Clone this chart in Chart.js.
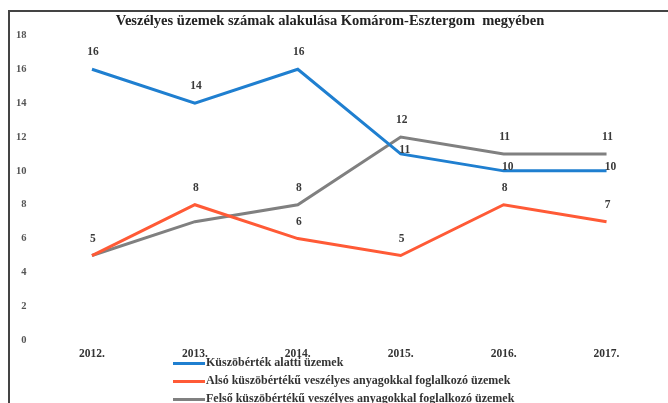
<!DOCTYPE html>
<html>
<head>
<meta charset="utf-8">
<script src="https://cdn.jsdelivr.net/npm/chart.js@4/dist/chart.umd.min.js"></script>
<style>
  html, body { margin: 0; padding: 0; background: #fff; }
  #wrap { position: relative; width: 668px; height: 403px; overflow: hidden; }
  #frame { position: absolute; left: 8px; top: 10px; right: -4px; bottom: -4px;
           border-left: 2px solid #444; border-top: 2px solid #444; }
  canvas { position: absolute; left: 0; top: 0; }
  #legend { position: absolute; left: 173px; top: 353px; font: bold 12px "Liberation Serif", serif; color: #333; }
  #legend div { height: 18px; line-height: 18px; white-space: nowrap; }
  #legend span.mk { display: inline-block; width: 32px; height: 3px; vertical-align: middle; margin-right: 1px; }
</style>
</head>
<body>
<div id="wrap">
  <div id="frame"></div>
  <canvas id="c" width="668" height="403"></canvas>
  <div id="legend"></div>
</div>
<script>
const years = ["2012.", "2013.", "2014.", "2015.", "2016.", "2017."];
const belowThreshold = [16, 14, 16, 11, 10, 10];
const lowerTier = [5, 8, 6, 5, 8, 7];
const upperTier = [5, 7, 8, 12, 11, 11];
const seriesNames = [
    "Küszöbérték alatti üzemek",
    "Alsó küszöbértékű veszélyes anyagokkal foglalkozó üzemek",
    "Felső küszöbértékű veszélyes anyagokkal foglalkozó üzemek"
];
const yTicks = [0, 2, 4, 6, 8, 10, 12, 14, 16, 18];

const serif = '"Liberation Serif", "Times New Roman", serif';

// value labels over the points
const pointLabels = {
    id: 'pointLabels',
    afterDatasetsDraw(chart) {
        const ctx = chart.ctx;
        ctx.save();
        ctx.font = 'bold 11.5px ' + serif;
        ctx.fillStyle = '#3a3a3a';
        ctx.textAlign = 'center';
        ctx.textBaseline = 'middle';
        chart.data.datasets.forEach((ds, i) => {
            const meta = chart.getDatasetMeta(i);
            meta.data.forEach((pt, j) => {
                if (ds.skipLabel && ds.skipLabel.includes(j)) return;
                const near = ds.nearLabel && ds.nearLabel.includes(j);
                const dy = near ? 4 : 17;
                const dx = near ? 4 : 1;
                ctx.fillText(ds.data[j], pt.x + dx, pt.y - dy);
            });
        });
        ctx.restore();
    }
};

const chart = new Chart(document.getElementById('c'), {
    type: 'line',
    data: {
        labels: years,
        datasets: [
            {
                label: seriesNames[0],
                data: belowThreshold,
                borderColor: '#1f7fd0',
                borderWidth: 3,
                pointRadius: 0,
                tension: 0,
                nearLabel: [3, 4, 5]
            },
            {
                label: seriesNames[1],
                data: lowerTier,
                borderColor: '#ff5a36',
                borderWidth: 3,
                pointRadius: 0,
                tension: 0
            },
            {
                label: seriesNames[2],
                data: upperTier,
                borderColor: '#808080',
                borderWidth: 3,
                pointRadius: 0,
                tension: 0,
                skipLabel: [0, 1]
            }
        ]
    },
    options: {
        responsive: false,
        animation: false,
        layout: { padding: { left: 2, right: 10, top: 0, bottom: 35 } },
        plugins: {
            legend: { display: false },
            tooltip: { enabled: false },
            title: {
                display: true,
                text: 'Veszélyes üzemek számak alakulása Komárom-Esztergom  megyében',
                color: '#222',
                font: { family: serif, size: 14.5, weight: 'bold' },
                padding: { top: 13, bottom: 5 }
            }
        },
        scales: {
            x: {
                offset: true,
                grid: { display: false, drawTicks: false },
                border: { display: false },
                ticks: { color: '#333', font: { family: serif, size: 11.5, weight: 'bold' }, padding: 7 }
            },
            y: {
                min: 0,
                max: 18,
                afterBuildTicks: axis => { axis.ticks = yTicks.map(v => ({ value: v })); },
                grid: { display: false, drawTicks: false },
                border: { display: false },
                ticks: { color: '#555', font: { family: serif, size: 10.5, weight: 'bold' }, padding: 14 }
            }
        }
    },
    plugins: [pointLabels]
});

const legend = document.getElementById('legend');
chart.data.datasets.forEach(ds => {
    const row = document.createElement('div');
    const mk = document.createElement('span');
    mk.className = 'mk';
    mk.style.background = ds.borderColor;
    row.appendChild(mk);
    row.appendChild(document.createTextNode(ds.label));
    legend.appendChild(row);
});
</script>
</body>
</html>
